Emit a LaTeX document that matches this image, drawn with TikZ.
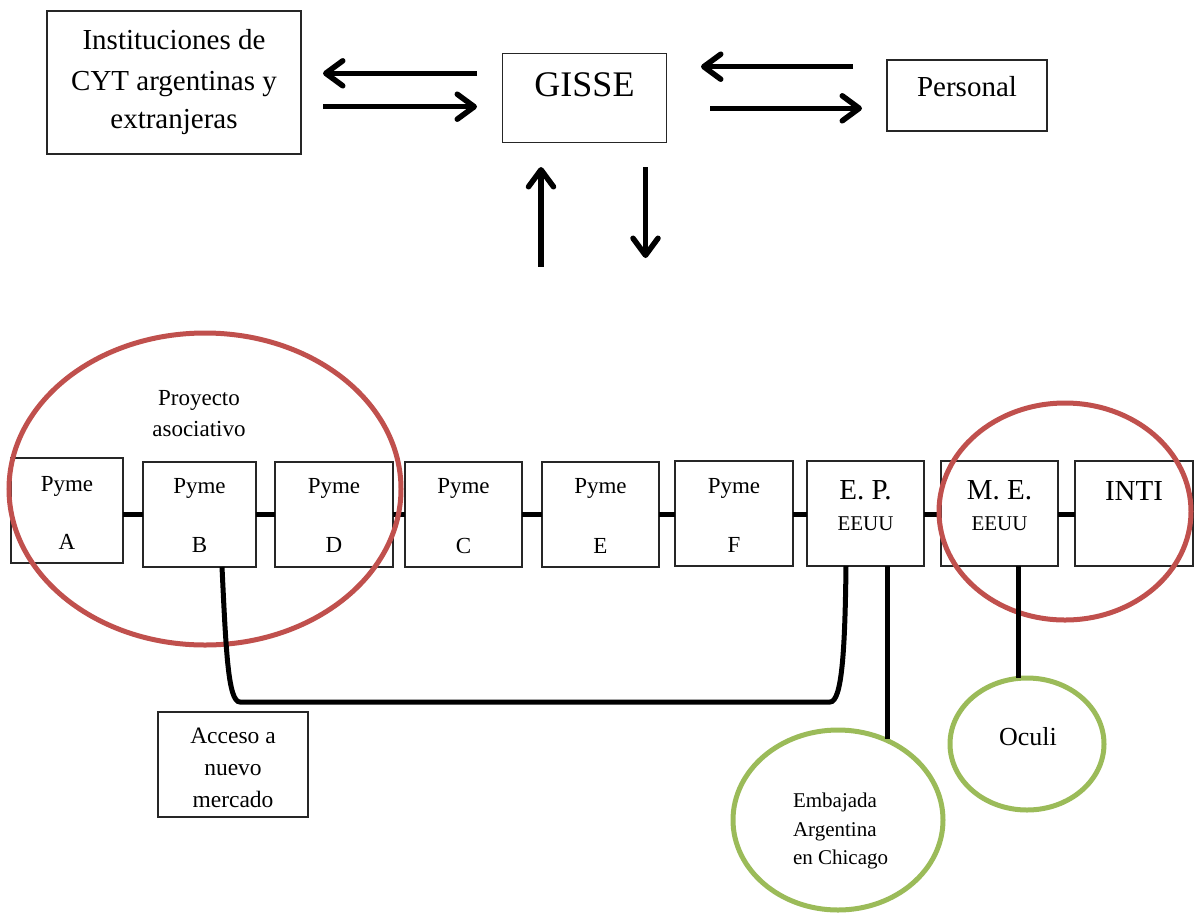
\documentclass[tikz,border=0pt]{standalone}
\usepackage{fontspec}
\setmainfont{Liberation Serif}
\usetikzlibrary{arrows.meta,shapes.geometric}
\definecolor{ored}{HTML}{C0504D}
\definecolor{ogreen}{HTML}{9BBB59}
\newcommand{\fsz}[2]{\fontsize{#1}{#2}\selectfont}
\begin{document}
\begin{tikzpicture}[x=1pt,y=-1pt,
  box/.style={draw=black!85, line width=1.3pt, fill=white, inner sep=0pt, outer sep=0pt},
  rowbox/.style={box, minimum width=117pt, minimum height=105pt},
  txt/.style={inner sep=0pt, outer sep=0pt, anchor=base},
  arr/.style={line width=5.5pt, -{Straight Barb[length=17pt,width=25pt,round]}},
  conn/.style={line width=5pt},
  redring/.style={draw=ored, line width=5pt},
  greenring/.style={ellipse, draw=ogreen, line width=5pt, inner sep=0pt, outer sep=0pt}]
\useasboundingbox (0,0) rectangle (1194,914);

% ---------- top boxes ----------
\node[box, minimum width=254pt, minimum height=143pt] (inst) at (174,82.5) {};
\node[txt, font=\fsz{29}{35}] at (174,49.3) {Instituciones de};
\node[txt, font=\fsz{29}{35}] at (174,90.5) {CYT argentinas y};
\node[txt, font=\fsz{29}{35}] at (174,128.5) {extranjeras};

\node[box, minimum width=164pt, minimum height=89pt] (gisse) at (584.5,98.3) {};
\node[txt, font=\fsz{36}{42}] at (584.5,96.7) {GISSE};

\node[box, minimum width=160pt, minimum height=71pt] (pers) at (967,95.5) {};
\node[txt, font=\fsz{29}{35}] at (967,96.5) {Personal};

% ---------- top arrows ----------
\coordinate (a1s) at (477,73.3);  \coordinate (a1e) at (323,73.3);
\coordinate (a2s) at (323,106.7); \coordinate (a2e) at (477,106.7);
\coordinate (a3s) at (853,66.7);  \coordinate (a3e) at (701,66.7);
\coordinate (a4s) at (710,108.3); \coordinate (a4e) at (862,108.3);
\coordinate (a5s) at (541,266.5); \coordinate (a5e) at (541,167);
\coordinate (a6s) at (645.5,167); \coordinate (a6e) at (645.5,258);
\draw[arr] (a1s) -- (a1e);
\draw[arr] (a2s) -- (a2e);
\draw[arr] (a3s) -- (a3e);
\draw[arr] (a4s) -- (a4e);
\draw[arr] (a5s) -- (a5e);
\draw[arr] (a6s) -- (a6e);

% ---------- row of boxes ----------
\node[rowbox, minimum width=112pt] (pA) at (67,510.5) {};
\node[rowbox, minimum width=113pt] (pB) at (199.5,514.5) {};
\node[rowbox, minimum width=118pt] (pD) at (334,514.5) {};
\node[rowbox] (pC) at (463.5,514.5) {};
\node[rowbox] (pE) at (600.5,514.5) {};
\node[rowbox, minimum width=118pt] (pF) at (734,513.5) {};
\node[rowbox] (ep) at (865.5,513.5) {};
\node[rowbox] (me) at (999.5,513.5) {};
\node[rowbox, minimum width=118pt] (inti) at (1134,513.5) {};

\coordinate (ch) at (0,514);
\foreach \a/\b in {pA/pB,pB/pD,pD/pC,pC/pE,pE/pF,pF/ep,ep/me,me/inti}
  \draw[conn] (\a.east |- ch) -- (\b.west |- ch);

\foreach \n/\l/\x/\ya/\yb in {A/A/67/491/549.5, B/B/199.5/493.3/552.5, D/D/334/493.3/552.5,
    C/C/463.5/493.3/553, E/E/600.5/493.3/553, F/F/734/493/552.5}
  {\node[txt, font=\fsz{23}{28}] at (\x,\ya) {Pyme};
   \node[txt, font=\fsz{23}{28}] at (\x,\yb) {\l};}

\node[txt, font=\fsz{29}{35}] at (865.5,499) {E. P.};
\node[txt, font=\fsz{21}{25}] at (865.5,530) {EEUU};
\node[txt, font=\fsz{29}{35}] at (999.5,499) {M. E.};
\node[txt, font=\fsz{21}{25}] at (999.5,530) {EEUU};
\node[txt, font=\fsz{29}{35}] at (1134,500) {INTI};

% ---------- red groupings ----------
\node[txt, font=\fsz{23}{28}] at (199,405) {Proyecto};
\node[txt, font=\fsz{23}{28}] at (199,436) {asociativo};
\draw[redring] (205,489) ellipse [x radius=196, y radius=156];
\draw[redring] (1065,511.5) ellipse [x radius=126, y radius=108.5];

% ---------- lower nodes ----------
\node[box, minimum width=150pt, minimum height=105pt] (acc) at (233,764.5) {};
\node[txt, font=\fsz{23.5}{28}] at (233,743) {Acceso a};
\node[txt, font=\fsz{23.5}{28}] at (233,775) {nuevo};
\node[txt, font=\fsz{23.5}{28}] at (233,807) {mercado};

\node[greenring, minimum width=210pt, minimum height=180pt] (emb) at (838,820) {};
\node[txt, anchor=base west, font=\fsz{21}{25}] at (793,807) {Embajada};
\node[txt, anchor=base west, font=\fsz{21}{25}] at (793,836) {Argentina};
\node[txt, anchor=base west, font=\fsz{21}{25}] at (793,864) {en Chicago};

\node[greenring, minimum width=154pt, minimum height=132pt] (oc) at (1027,744) {};
\node[txt, font=\fsz{26}{30}] at (1028,745) {Oculi};

% ---------- connectors ----------
\draw[conn] ([xshift=22.5pt]pB.south) .. controls (226,650) and (228,702) .. (240,702)
  -- (830,702) .. controls (842,702) and (845,650) .. ([xshift=-19.5pt]ep.south);
\coordinate (e1) at (887,739);
\draw[conn] (ep.south -| e1) -- (e1);
\draw[conn] ([xshift=18.5pt]me.south) -- ([xshift=18.5pt]me.south |- oc.north);
\end{tikzpicture}
\end{document}
